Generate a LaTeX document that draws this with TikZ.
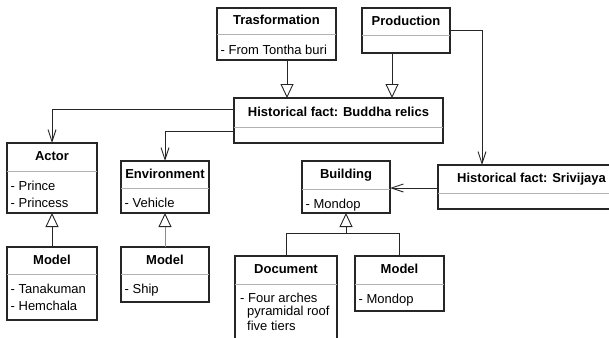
\documentclass[tikz,border=0pt]{standalone}
\usepackage{fontspec}
\setmainfont{Liberation Sans}
\usetikzlibrary{arrows.meta,calc}

\tikzset{
  classbox/.style={draw=black!85, line width=1.1pt, fill=white, inner sep=0pt, outer sep=0pt},
  divider/.style={draw=black!30, line width=0.9pt},
  titletext/.style={font=\bfseries\fontsize{13}{16}\selectfont, inner sep=0pt},
  attrtext/.style={font=\fontsize{13}{16}\selectfont, inner sep=0pt, anchor=base west},
  link/.style={draw=black!85, line width=0.9pt},
  inh/.style={link, -{Triangle[open, length=14pt, width=13pt, fill=white, color=black!85]}},
  assoc/.style={link, -{Straight Barb[length=12pt, width=8pt]}},
}

% class box: name, left, top, right, bottom, divider y, title
\newcommand\umlclass[7]{%
  \pgfmathsetmacro\boxw{#4-#2}%
  \pgfmathsetmacro\boxh{#5-#3}%
  \node[classbox, minimum width=\boxw pt, minimum height=\boxh pt, anchor=north west] (#1) at (#2,#3) {};
  \draw[divider] (#1.west |- 0,#6) -- (#1.east |- 0,#6);
  \pgfmathsetmacro\titley{(#3+#6)/2+3.8}%
  \node[titletext, anchor=base] (#1-title) at (#1.north |- 0,\titley) {#7};
  \coordinate (#1-sep) at (#2,#6);
}

\begin{document}
\begin{tikzpicture}[x=1pt, y=-1pt]
\useasboundingbox (0,0) rectangle (609,337);

% classes
\umlclass{trans}{217}{8}{336}{60}{34}{Trasformation}
\node[attrtext] (trans-a1) at ([xshift=3.5pt, yshift=-20pt]trans-sep) {- From Tontha buri};

\umlclass{prod}{362}{8}{450}{53}{35}{Production}

\umlclass{buddha}{234}{98}{443}{143}{127}{Historical fact: Buddha relics}

\umlclass{sri}{438}{165}{625}{209}{193}{Historical fact: Srivijaya}

\umlclass{actor}{7}{143}{97}{213}{171}{Actor}
\node[attrtext] (actor-a1) at ([xshift=3.5pt, yshift=-19pt]actor-sep) {- Prince};
\node[attrtext] (actor-a2) at ([xshift=3.5pt, yshift=-36pt]actor-sep) {- Princess};

\umlclass{env}{121}{161}{209}{213}{188}{Environment}
\node[attrtext] (env-a1) at ([xshift=3.5pt, yshift=-19pt]env-sep) {- Vehicle};

\umlclass{build}{302}{161}{390}{213}{189}{Building}
\node[attrtext] (build-a1) at ([xshift=3.5pt, yshift=-19pt]build-sep) {- Mondop};

\umlclass{modela}{7}{247}{97}{320}{274}{Model}
\node[attrtext] (modela-a1) at ([xshift=3.5pt, yshift=-19pt]modela-sep) {- Tanakuman};
\node[attrtext] (modela-a2) at ([xshift=3.5pt, yshift=-36pt]modela-sep) {- Hemchala};

\umlclass{modelb}{121}{247}{209}{302}{274}{Model}
\node[attrtext] (modelb-a1) at ([xshift=3.5pt, yshift=-19pt]modelb-sep) {- Ship};

\umlclass{doc}{235}{256}{337}{350}{284}{Document}
\node[attrtext] (doc-a1) at ([xshift=5pt, yshift=-18pt]doc-sep) {- Four arches};
\node[attrtext] (doc-a2) at ([xshift=12pt, yshift=-31pt]doc-sep) {pyramidal roof};
\node[attrtext] (doc-a3) at ([xshift=12pt, yshift=-46pt]doc-sep) {five tiers};

\umlclass{modelc}{355}{256}{444}{311}{284}{Model}
\node[attrtext] (modelc-a1) at ([xshift=3.5pt, yshift=-19pt]modelc-sep) {- Mondop};

% generalisations
\draw[inh] ([xshift=10.5pt]trans.south) -- ([xshift=10.5pt]trans.south |- buddha.north);
\draw[inh] ([xshift=-14pt]prod.south) -- ([xshift=-14pt]prod.south |- buddha.north);
\draw[inh] (modela.north) -- (actor.south);
\draw[inh, draw=black!45] (modelb.north) -- (env.south);
\coordinate (buildjoin) at (build.south |- 0,233);
\draw[link] (doc.north) |- (buildjoin);
\draw[link] (modelc.north) |- (buildjoin);
\draw[inh] (buildjoin) -- (build.south);

% associations
\draw[assoc] (prod.east |- 0,30) -| ([xshift=44pt]sri.north west);
\draw[assoc] (buddha.west |- 0,109) -| (actor.north);
\draw[assoc] (buddha.west |- 0,131) -| (env.north);
\draw[assoc] (sri.west |- 0,188) -- (build.east |- 0,188);
\end{tikzpicture}
\end{document}
